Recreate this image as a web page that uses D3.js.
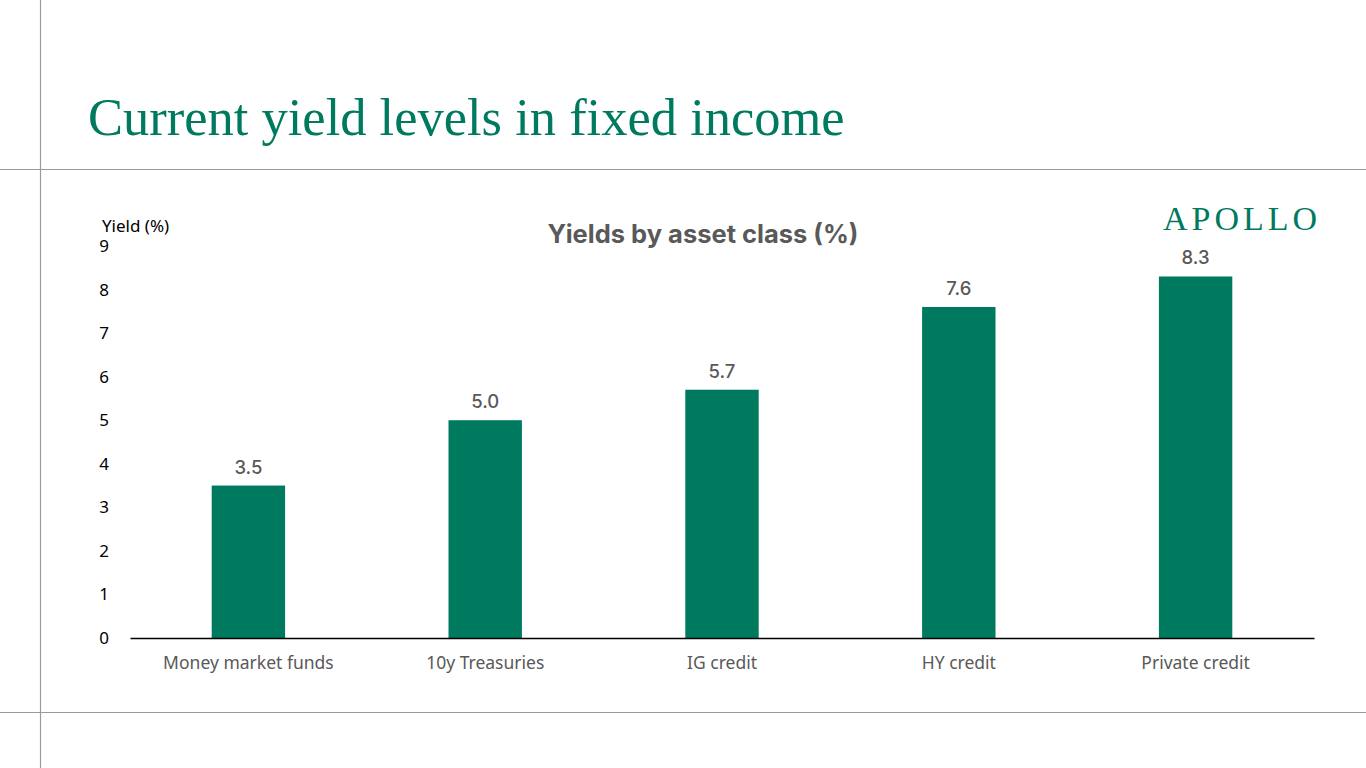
<!DOCTYPE html>
<html>
<head>
<meta charset="utf-8">
<script src="https://cdn.jsdelivr.net/npm/d3@7"></script>
<style>
  html, body { margin: 0; padding: 0; background: #fff; }
  svg { display: block; }
</style>
</head>
<body>
<svg id="chart"></svg>
<script>
// Chart data
const categories = ['Money market funds', '10y Treasuries', 'IG credit', 'HY credit', 'Private credit'];
const yields = [3.5, 5.0, 5.7, 7.6, 8.3];
const yTicks = [0, 1, 2, 3, 4, 5, 6, 7, 8, 9];

const W = 1366, H = 768;
const green = '#007A5F';
const grey = '#595959';

const svg = d3.select('#chart')
    .attr('width', W)
    .attr('height', H);

// Slide frame lines
svg.append('line')
    .attr('x1', 40.5).attr('x2', 40.5).attr('y1', 0).attr('y2', H)
    .attr('stroke', '#9a9a9a').attr('stroke-width', 1.2);
[169.5, 712.5].forEach(y => {
  svg.append('line')
      .attr('x1', 0).attr('x2', W).attr('y1', y).attr('y2', y)
      .attr('stroke', '#9a9a9a').attr('stroke-width', 1.2);
});

// Slide title
svg.append('text')
    .attr('x', 88).attr('y', 135)
    .attr('font-family', '"Liberation Serif", "DejaVu Serif", serif')
    .attr('font-size', 52.5)
    .attr('fill', green)
    .text('Current yield levels in fixed income');

// Logo text
svg.append('text')
    .attr('x', 1163).attr('y', 230)
    .attr('font-family', '"Liberation Serif", serif')
    .attr('font-size', 34)
    .attr('letter-spacing', 4)
    .attr('fill', green)
    .text('APOLLO');

// Chart title
svg.append('text')
    .attr('x', 703).attr('y', 243)
    .attr('text-anchor', 'middle')
    .attr('font-family', 'Inter, "Liberation Sans", sans-serif')
    .attr('font-weight', 700)
    .attr('font-size', 25.5)
    .attr('fill', grey)
    .text('Yields by asset class (%)');

// Plot area
const margin = {left: 130, right: 52, top: 246, bottom: 130};
const plotW = W - margin.left - margin.right;
const plotH = H - margin.top - margin.bottom;

const x = d3.scaleBand()
    .domain(categories)
    .range([0, plotW])
    .paddingInner(0.69)
    .paddingOuter(0.345);

const y = d3.scaleLinear()
    .domain([0, 9])
    .range([plotH, 0]);

const g = svg.append('g')
    .attr('transform', `translate(${margin.left},${margin.top})`);

// Bars
g.selectAll('.bar')
    .data(yields)
  .join('rect')
    .attr('class', 'bar')
    .attr('x', (d, i) => x(categories[i]))
    .attr('y', d => y(d))
    .attr('width', x.bandwidth())
    .attr('height', d => plotH - y(d))
    .attr('fill', green);

// Value labels
g.selectAll('.val')
    .data(yields)
  .join('text')
    .attr('class', 'val')
    .attr('x', (d, i) => x(categories[i]) + x.bandwidth() / 2)
    .attr('y', d => y(d) - 12)
    .attr('text-anchor', 'middle')
    .attr('font-family', 'Inter, "Liberation Sans", sans-serif')
    .attr('font-weight', 500)
    .attr('font-size', 18.5)
    .attr('fill', grey)
    .text(d => d.toFixed(1));

// X axis
const xAxis = d3.axisBottom(x).tickSize(0).tickPadding(19);
const xAxisG = g.append('g')
    .attr('transform', `translate(0,${plotH})`)
    .call(xAxis);
xAxisG.select('.domain')
    .attr('stroke', '#000').attr('stroke-width', 1.5);
xAxisG.selectAll('text')
    .attr('font-family', '"Noto Sans", "Open Sans", sans-serif')
    .attr('font-size', 17.5)
    .attr('fill', grey);

// Y axis (labels only)
const yAxis = d3.axisLeft(y).tickValues(yTicks).tickSize(0).tickPadding(21);
const yAxisG = g.append('g').call(yAxis);
yAxisG.select('.domain').remove();
yAxisG.selectAll('text')
    .attr('font-family', '"Noto Sans", "Open Sans", sans-serif')
    .attr('font-size', 17)
    .attr('fill', '#000')
    .attr('text-anchor', 'middle')
    .attr('x', -26);

// Y axis title
svg.append('text')
    .attr('x', 102).attr('y', 232)
    .attr('font-family', '"Noto Sans", "Open Sans", sans-serif')
    .attr('font-size', 17)
    .attr('fill', '#000')
    .text('Yield (%)');
</script>
</body>
</html>
